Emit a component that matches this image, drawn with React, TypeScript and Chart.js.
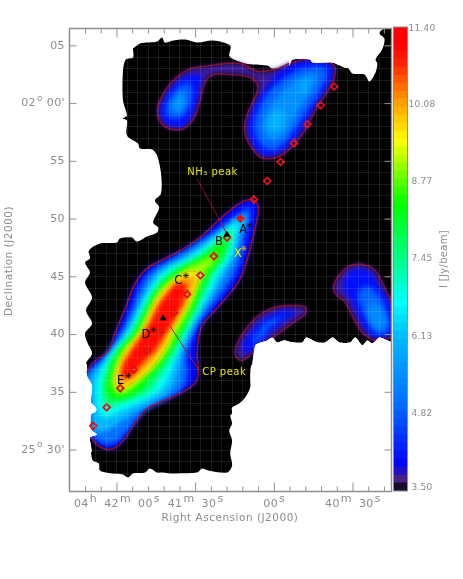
import React, { useEffect, useRef } from "react";
import { Chart, registerables } from "chart.js";

Chart.register(...registerables);

type Pair = number[];

// All positions: [right ascension seconds after 04h40m, declination arcmin after 25deg]
const skyMask: Pair[] = [[113.9,64.76],[111.2,65.2],[104.7,65.37],[102.8,65.72],[101.7,65.28],[98.6,65.46],[94,65.54],[89.4,65.28],[83.3,65.46],[76.8,65.02],[77.2,64.16],[76.1,63.9],[71.1,63.47],[62.7,63.29],[60.8,63.03],[54.3,63.29],[53.1,63.81],[46.3,63.81],[45.5,63.55],[37.8,63.55],[32.1,63.12],[30.2,62.6],[25.6,62.51],[23.7,61.91],[21.4,62.69],[20.7,63.47],[21.4,63.81],[18.7,64.76],[18,65.63],[19.9,66.06],[18.7,66.41],[14.9,66.41],[14.9,39.22],[16.8,39.48],[19.9,39.74],[22.6,39.22],[24.5,39.48],[26.4,39.05],[29.1,39.74],[31,39.31],[35.2,39.31],[37.8,39.74],[40.5,39.31],[43.6,39.31],[47.8,39.74],[49.3,39.31],[53.1,39.31],[56.2,39.48],[58.9,39.31],[60.8,39.74],[62.7,39.48],[67.3,39.05],[67.3,37.58],[68.8,37.32],[69.2,36.28],[69.2,35.41],[71.1,34.55],[73.4,34.03],[76.1,33.68],[76.1,33.16],[76.8,32.99],[76.1,32.3],[77.2,31.69],[76.1,30.82],[76.8,29.7],[76.1,28.66],[78,28.05],[85.2,28.23],[87.5,28.4],[89.4,28.05],[97.1,27.97],[99.7,27.97],[102.4,28.05],[104.7,28.05],[107.4,28.4],[109.3,28.05],[113.9,27.97],[115.8,27.62],[117.7,27.88],[121.9,27.97],[126.5,28.23],[126.9,28.83],[129.2,29.09],[129.9,29.79],[130.3,31.08],[127.6,31.34],[129.9,31.78],[129.9,33.08],[128,33.34],[128,33.68],[129.9,34.12],[129.5,35.59],[131.5,36.45],[131.8,37.49],[129.5,38.36],[131.1,39.22],[132.2,40.09],[129.5,40.95],[131.8,42.08],[129.5,43.21],[132.2,44.5],[130.3,45.37],[132.2,46.24],[130.3,46.58],[130.7,47.27],[126.5,47.88],[120,47.97],[118.9,48.31],[114.3,48.4],[112.4,48.05],[108.5,48.49],[104.7,48.83],[104.3,49.27],[106.2,49.7],[103.9,51],[105.5,51.6],[103.2,52.21],[103.2,53.94],[104.7,55.5],[106.6,56.02],[111.2,56.11],[112,56.54],[116.2,57.23],[116.2,58.53],[117.7,58.7],[116.2,58.96],[117.7,60.26],[117.7,62.86],[116.6,63.81],[113.9,63.98]];

const leftPatch: Pair[] = [[145,37.49],[131.8,37.49],[131.5,36.45],[129.5,35.59],[129.9,34.12],[128,33.68],[128,33.34],[129.9,33.08],[129.9,31.78],[127.6,31.34],[130.3,31.08],[129.9,29.79],[145,29.79]];
const topPatch: Pair[] = [[54.3,68],[54.3,63.29],[53.1,63.81],[46.3,63.81],[45.5,63.55],[37.8,63.55],[32.1,63.12],[32.1,68]];
const bottomPatch: Pair[] = [[14,39.22],[16.8,39.48],[19.9,39.74],[22.6,39.22],[24.5,39.48],[26.4,39.05],[29.1,39.74],[31,39.31],[35.2,39.31],[37.8,39.74],[40.5,39.31],[43.6,39.31],[47.8,39.74],[49.3,39.31],[53.1,39.31],[56.2,39.48],[58.9,39.31],[60.8,39.74],[62.7,39.48],[67.3,39.05],[67.3,35],[14,35]];

// Main filament contours
const fil40: Pair[] = [[68,51.69],[66.1,51.17],[66.5,50.05],[68,48.57],[69.9,46.84],[73,44.85],[77.6,43.38],[83.3,41.91],[87.5,40.78],[89,39.48],[89.4,38.18],[89,37.15],[89.8,35.93],[94,35.15],[101.7,34.29],[108.2,33.6],[113.1,32.3],[118.1,30.65],[122.7,30.05],[127.3,30.39],[129.9,31.08],[134.1,32.12],[134.9,35.59],[131.2,36.89],[129.5,37.49],[123.4,38.62],[120.8,40.09],[116.9,42.25],[113.1,44.42],[108.2,45.8],[101.7,46.58],[94,47.53],[87.5,48.57],[81.4,49.87],[76.1,50.91],[71.1,51.6]];
const fil50: Pair[] = [[69.6,51.08],[69.2,50.22],[71.1,48.57],[72.6,46.84],[74.9,45.37],[79.1,43.81],[85.7,41.91],[90.6,40.09],[93.3,38.18],[93.3,36.19],[96.7,34.98],[108.9,33.42],[114.3,32.12],[119.6,30.82],[123.4,30.48],[127.3,30.82],[132.2,32.12],[134.1,33.42],[134.9,34.98],[132.6,36.45],[128.4,37.32],[124.6,38.18],[118.9,40.09],[115,41.91],[111.6,43.81],[107.4,45.37],[97.1,46.84],[85.2,48.57],[74.5,50.22]];
const fil61: Pair[] = [[71.9,50.39],[70.7,49.7],[73.4,48.57],[74.9,46.84],[78.3,45.37],[82.2,43.81],[87.6,41.91],[92.1,40.09],[95.2,38.18],[97.1,36.19],[100.5,34.98],[112,33.42],[120.8,32.12],[126.5,31.52],[129.2,32.12],[129.5,33.42],[130.3,34.98],[130.3,36.19],[123.4,38.18],[117.3,40.09],[113.1,41.91],[109.3,43.81],[104.7,45.37],[94,46.84],[82.9,48.57],[76.1,49.87]];
const fil68: Pair[] = [[73.8,49.79],[74.5,48.57],[76.4,46.84],[80.6,45.37],[84.1,43.81],[89,41.91],[93.3,40.09],[97.1,38.18],[100.5,36.19],[104.3,34.98],[118.1,33.42],[124.6,32.82],[127.3,33.42],[128,34.98],[127.6,36.19],[122.7,38.18],[116.2,40.09],[112,41.91],[107.8,43.81],[102.4,45.37],[91.3,46.84],[81.4,48.57],[76.1,49.44]];
const fil76: Pair[] = [[75.7,49.09],[76.1,48.57],[78,46.84],[82.6,45.37],[86,43.81],[90.2,41.91],[94.4,40.09],[98.6,38.18],[104,36.19],[108.2,34.98],[115.8,34.29],[122.7,33.77],[125.3,34.29],[125.7,34.98],[125.3,36.19],[121.5,38.18],[115,40.09],[110.6,41.91],[106.2,43.81],[100.1,45.37],[88.7,46.84],[79.5,48.57]];
const fil84: Pair[] = [[78.3,48.31],[79.9,46.84],[84.5,45.37],[87.9,43.81],[91.4,41.91],[95.9,40.09],[100.5,38.18],[107.4,36.19],[112.4,34.98],[120.8,34.38],[123.8,34.98],[123.4,36.19],[120.4,38.18],[113.5,40.09],[109.3,41.91],[104.7,43.81],[97.8,45.37],[86.8,46.84],[79.9,48.05]];
const fil90: Pair[] = [[82.6,46.93],[82.2,46.58],[86.4,45.37],[89.4,43.81],[92.9,41.91],[97.4,40.09],[102,38.18],[110.1,36.19],[115.8,35.07],[119.6,34.89],[121.9,35.59],[121.9,36.19],[118.9,38.18],[112.4,40.09],[108,41.91],[103.6,43.81],[95.5,45.37],[84.1,46.76]];
const fil96: Pair[] = [[88.3,45.17],[90.8,43.66],[94,42.23],[98.7,40.35],[100.4,39.34],[104.2,37.9],[109.3,36.6],[115.7,35.59],[119.5,35.39],[120.8,36.31],[118.9,37.6],[115.7,38.9],[111.2,40.06],[108,41.65],[104.8,43.09],[99.7,44.39],[94,45.4],[90.2,45.46]];
const fil101: Pair[] = [[89.9,44.9],[92.5,43.29],[95.5,41.91],[100.1,40.26],[102.4,39.05],[105.8,37.92],[110.4,36.8],[115.8,35.8],[118.9,35.7],[119.4,36.45],[117.4,37.67],[114.4,38.88],[110.2,40.09],[107.1,41.47],[104.1,42.86],[99.5,43.9],[94.5,45]];
const fil108: Pair[] = [[93.2,44.4],[94.7,42.77],[97.8,41.39],[102,39.83],[105.8,38.53],[110.4,37.49],[114.4,36.4],[118,36.3],[117.6,37.41],[114.9,38.44],[111.4,39.66],[108,40.78],[104.9,42.17],[101.5,43.38],[97.5,44.4]];

// North-east emission (two lobes joined by a faint bridge)
const neOutline: Pair[] = [[98.5,57.73],[102.3,58.1],[104.6,59.25],[102.3,60.84],[97.2,62.28],[92.1,63.01],[87,63.21],[76.8,63.49],[71.7,63.38],[66.6,62.8],[59,63.01],[53.9,63.49],[46.3,63.9],[38.6,63.53],[36.7,63.01],[38,61.71],[43.7,59.68],[50.1,57.08],[56.4,55.65],[62.2,55.21],[66.6,55.59],[71.1,57.38],[70.4,58.96],[66.6,60.98],[66.6,61.71],[69.2,62.28],[76.8,62.51],[83.2,62.51],[86.4,61.85],[88.3,60.26],[90.8,58.68],[94.7,57.81]];
const neWest41: Pair[] = [[98.6,58.01],[101.7,58.36],[103.6,59.31],[101.3,60.69],[96.7,61.91],[91.7,62.51],[87.9,62.43],[88.7,61.13],[89.8,59.83],[92.1,58.7],[95.2,58.01]];
const neWest50: Pair[] = [[98.6,58.62],[101.3,59.14],[100.5,60.26],[97.1,61.3],[92.9,61.82],[91.3,61.13],[92.1,59.83],[95.2,58.88]];
const neWest58: Pair[] = [[98.6,59.22],[99.4,59.92],[96.7,60.78],[94.4,60.95],[94,59.92],[96.3,59.22]];
const neEast41: Pair[] = [[53.9,63.38],[45.5,63.73],[38.6,63.38],[37.5,62.69],[39.4,61.65],[44.7,59.74],[50.8,57.32],[57,55.93],[62.3,55.5],[66.1,55.85],[69.9,57.49],[69.2,58.96],[65.7,60.52],[62.3,61.65],[58.5,62.69]];
const neEast50: Pair[] = [[50.1,63.03],[42.4,63.21],[39.8,62.69],[41.7,61.47],[47,59.57],[52.4,57.66],[57.7,56.28],[62.3,56.02],[66.1,56.8],[67.6,58.1],[66.1,59.4],[62.3,60.95],[56.2,62.17]];
const neEast58: Pair[] = [[48.2,62.51],[44,62.51],[45.5,61.3],[50.1,59.74],[53.9,58.1],[57.7,57.06],[62.3,56.97],[64.6,58.01],[63.1,59.22],[58.5,60.61],[53.1,61.82]];
const neEast63: Pair[] = [[55.8,58.7],[57.7,57.66],[61.5,57.66],[62.7,58.36],[60.4,59.22],[57,59.4]];
const neEast63b: Pair[] = [[46.3,61.99],[47.8,60.95],[50.8,60.95],[49.3,61.99]];

// South-east clumps
const seOutline: Pair[] = [[27.1,46.12],[22.1,45.69],[18.9,44.53],[15.7,43.12],[13.4,42.95],[13.4,40.18],[20.3,39.48],[23.3,39.66],[26.5,40.2],[29.7,41.36],[32.9,42.8],[36.7,43.53],[37.3,44.24],[34.8,45.26],[31,45.98]];
const se41: Pair[] = [[27.1,45.72],[23.3,45.37],[20.3,44.24],[16.4,42.95],[14.9,40.35],[20.3,39.66],[23.3,39.92],[25.6,40.52],[28.7,41.91],[31,43.12],[33.6,43.99],[32.9,44.94],[30.2,45.54]];
const se50: Pair[] = [[24.9,44.24],[21,43.64],[17.2,42.08],[16.4,40.35],[21,40.09],[24.1,41.04],[27.1,42.51],[27.9,43.64]];
const se55: Pair[] = [[23.3,42.95],[19.5,42.25],[17.6,40.78],[21.4,40.52],[24.1,41.65]];
const midOutline: Pair[] = [[51.3,42.51],[48.2,42.37],[48.2,41.79],[52.6,41.07],[60.3,39.77],[67.3,38.62],[72.3,37.75],[74.9,38.33],[73.6,39.48],[69.2,40.93],[64.1,41.93],[57.7,42.45]];
const mid41: Pair[] = [[51.6,42.08],[53.9,41.56],[60.8,40.35],[66.1,39.05],[67.3,38.62],[71.1,38.44],[72.2,39.05],[68.4,40.35],[63.4,41.39],[57,42.08]];
const mid50: Pair[] = [[55.8,41.65],[61.5,40.61],[66.1,39.31],[68.4,39.31],[66.1,40.35],[62.3,41.21],[57.7,41.56]];

// Point marks
const openDiamondRa = [37.2,42.3,47.4,52.5,57.6,62.7,67.8,78,83.05,88.2,93.25,98.3,103.5,108.54,113.6,118.74,123.94,129.06];
const openDiamondDec = [61.47,59.85,58.2,56.56,54.95,53.3,51.69,48.4,46.78,45.13,43.49,41.88,40.23,38.59,36.97,35.35,33.7,32.1];
const filledDiamondRa = [72.9];
const filledDiamondDec = [50.04];
const triangleRa = [78.1,102.4];
const triangleDec = [48.66,41.41];
const blackStarRa = [69.4,93.7,106.1,115.7];
const blackStarDec = [49.47,45.11,40.41,36.43];
const yellowStarRa = [71.6];
const yellowStarDec = [47.47];
const nh3Leader: Pair[] = [[89.5,53.51],[78.1,48.75]];
const cpLeader: Pair[] = [[100.4,40.95],[88.7,36.89]];

const clumpNames = ["A","B","C","D","E"];
const clumpRa = [71.9,81.1,96.6,109,118.6];
const clumpDec = [49.01,47.97,44.62,39.92,35.96];
const yellowTexts = ["X","NH₃ peak","CP peak"];
const yellowRa = [73.9,93.2,87.5];
const yellowDec = [46.99,54.03,36.71];

// Axes
const xMajorValues = [120,90,60,30];
const xMajorParts = [[["04","h"],["42","m"],["00","s"]],[["41","m"],["30","s"]],[["00","s"]],[["40","m"],["30","s"]]];
const xMinorValues = [132,126,114,108,102,96,84,78,72,66,54,48,42,36,24,18];
const yMajorValues = [65,60,55,50,45,40,35,30];
const yDegrees = ["","02","","","","","","25"];
const yMinutes = ["05","00'","55","50","45","40","35","30'"];

// Colour scale
const colourValues = [3.5,3.7,3.95,5.0,6.1,6.7,7.5,8.4,9.45,10.1,10.8,11.1,11.4];
const colourHex = ["#000000","#4a2080","#0000ff","#0070ff","#00b8ff","#00ffff","#00ff80","#00ff00","#ffff00","#ffa000","#ff2000","#ff0000","#ff0000"];
const colourTicks = [3.5,4.82,6.13,7.45,8.77,10.08,11.4];
const colourTickText = ["3.50","4.82","6.13","7.45","8.77","10.08","11.40"];
const colourEdges = [3.50,3.64,3.77,3.91,4.04,4.18,4.32,4.45,4.59,4.73,4.86,5.00,5.13,5.27,5.41,5.54,5.68,5.82,5.95,6.09,6.22,6.36,6.50,6.63,6.77,6.91,7.04,7.18,7.31,7.45,7.59,7.72,7.86,8.00,8.13,8.27,8.40,8.54,8.68,8.81,8.95,9.09,9.22,9.36,9.49,9.63,9.77,9.90,10.04,10.18,10.31,10.45,10.58,10.72,10.86,10.99,11.13,11.27,11.40];

const hexRgb = (h: string) => [1,3,5].map((i) => parseInt(h.slice(i,i+2),16));
const colourFor = (v: number) => {
  let i = 0;
  while (i < colourValues.length - 2 && v > colourValues[i+1]) i++;
  const t = Math.min(1, Math.max(0, (v - colourValues[i]) / (colourValues[i+1] - colourValues[i])));
  const a = hexRgb(colourHex[i]), b = hexRgb(colourHex[i+1]);
  return `rgb(${a.map((c,k) => Math.round(c + (b[k]-c)*t)).join(",")})`;
};

const GREY = "#8c8c8c";
const FONT = '"DejaVu Sans"';
const toXY = (p: Pair[], close = true) => (close ? [...p, p[0]] : p).map(([x,y]) => ({x,y}));
const zip = (xs: number[], ys: number[]) => xs.map((x,i) => ({x, y: ys[i]}));

const shape = (p: Pair[], color: string, blur: boolean, tension = 0.4) => ({
  data: toXY(p), showLine: true, fill: "shape", backgroundColor: color, borderWidth: 0,
  borderColor: "transparent", pointRadius: 0, tension, blur,
});
const level = (p: Pair[], v: number) => shape(p, colourFor(v), true);
const stroke = (p: Pair[], color: string, w: number, close = true) => ({
  data: toXY(p, close), showLine: true, fill: false, borderColor: color, borderWidth: w,
  pointRadius: 0, tension: close ? 0.4 : 0,
});
const marks = (data: any[], style: string, r: number, fg: string, bg: string, w: number) => ({
  data, showLine: false, pointStyle: style, pointRadius: r, pointBorderColor: fg, pointBackgroundColor: bg,
  borderColor: fg, backgroundColor: bg, pointBorderWidth: w, borderWidth: w,
});

const BLUR = "blur(2.5px)";
const blurPlugin = {
  id: "contourBlur",
  afterDatasetDraw(chart: any, args: any) {
    const next = chart.data.datasets[args.index - 1];
    chart.ctx.filter = next && next.blur ? BLUR : "none";
  },
  afterDatasetsDraw(chart: any) { chart.ctx.filter = "none"; },
};

function text(ctx: CanvasRenderingContext2D, s: string, x: number, y: number, size: number, color: string, align: CanvasTextAlign = "left", spacing = "0.4px") {
  ctx.font = `${size}px ${FONT}`;
  ctx.fillStyle = color;
  ctx.textAlign = align;
  ctx.textBaseline = "middle";
  (ctx as any).letterSpacing = spacing;
  ctx.fillText(s, x, y);
}

const framePlugin = {
  id: "frame",
  afterDraw(chart: any) {
    const { ctx, chartArea: a, scales: { x, y } } = chart;
    ctx.save();
    ctx.strokeStyle = "#8f8f8f";
    ctx.lineWidth = 1;
    const seg = (x0: number, y0: number, x1: number, y1: number) => {
      ctx.beginPath(); ctx.moveTo(x0,y0); ctx.lineTo(x1,y1); ctx.stroke();
    };
    xMajorValues.forEach((v) => { const p = x.getPixelForValue(v); seg(p,a.top,p,a.top+9); seg(p,a.bottom,p,a.bottom-9); });
    xMinorValues.forEach((v) => { const p = x.getPixelForValue(v); seg(p,a.top,p,a.top+5); seg(p,a.bottom,p,a.bottom-5); });
    yMajorValues.forEach((v) => { const p = y.getPixelForValue(v); seg(a.left,p,a.left+7,p); seg(a.right,p,a.right-7,p); });
    ctx.lineWidth = 1.5;
    ctx.strokeRect(a.left, a.top, a.right - a.left, a.bottom - a.top);

    // x tick labels, with raised h / m / s
    const labelY = a.bottom + 13, size = 11;
    ctx.font = `${size}px ${FONT}`;
    (ctx as any).letterSpacing = "0.4px";
    xMajorValues.forEach((v, i) => {
      const parts = xMajorParts[i];
      const gap = 7;
      const total = parts.reduce((t, [d,u]) => t + ctx.measureText(d).width + ctx.measureText(u).width + 1, 0) + gap*(parts.length-1);
      let cx = x.getPixelForValue(v) - total/2;
      parts.forEach(([d,u]) => {
        text(ctx, d, cx, labelY, size, GREY);
        cx += ctx.measureText(d).width + 1;
        text(ctx, u, cx, labelY - 5, size, GREY);
        cx += ctx.measureText(u).width + gap;
      });
    });
    // y tick labels
    yMajorValues.forEach((v, i) => {
      const p = y.getPixelForValue(v);
      text(ctx, yMinutes[i], 65, p, size, GREY, "right");
      if (yDegrees[i]) {
        text(ctx, yDegrees[i], 36, p, size, GREY, "right");
        text(ctx, "o", 37, p - 5, 9, GREY, "left");
      }
    });
    text(ctx, "Right Ascension (J2000)", 230, 518, 10.5, GREY, "center", "0.5px");
    ctx.save();
    ctx.translate(9, 261);
    ctx.rotate(-Math.PI/2);
    text(ctx, "Declination (J2000)", 0, 0, 10.5, GREY, "center", "0.5px");
    ctx.restore();

    clumpNames.forEach((n,i) => text(ctx, n, x.getPixelForValue(clumpRa[i]), y.getPixelForValue(clumpDec[i]), 11.5, "#000", "center", "0px"));
    yellowTexts.forEach((n,i) => text(ctx, n, x.getPixelForValue(yellowRa[i]), y.getPixelForValue(yellowDec[i]), i === 0 ? 11.5 : 10, "#e6e600", i === 0 ? "center" : "left", i === 0 ? "0px" : "0.5px"));
    ctx.restore();
  },
};

const colourbarPlugin = {
  id: "colourbarText",
  afterDraw(chart: any) {
    const { ctx, chartArea: a, scales: { y } } = chart;
    ctx.save();
    ctx.strokeStyle = "#8f8f8f";
    ctx.lineWidth = 1;
    ctx.strokeRect(a.left, a.top, a.right - a.left, a.bottom - a.top);
    colourTicks.forEach((v,i) => {
      const p = Math.min(a.bottom - 3, Math.max(a.top + 2, y.getPixelForValue(v)));
      text(ctx, colourTickText[i], 422, p, 9, GREY, "center", "0.2px");
    });
    ctx.translate(444, 259);
    ctx.rotate(-Math.PI/2);
    text(ctx, "I [Jy/beam]", 0, 0, 10, GREY, "center", "0.3px");
    ctx.restore();
  },
};

export default function App() {
  const mapRef = useRef<HTMLCanvasElement>(null);
  const barRef = useRef<HTMLCanvasElement>(null);

  useEffect(() => {
    // listed bottom layer first, reversed below because Chart.js paints index 0 last
    const layers: any[] = [
      shape(skyMask, "#000000", false, 0.3),
      level(neOutline, 3.75), level(seOutline, 3.75), level(midOutline, 3.75),
      level(fil40, 4.0),
      level(neWest41, 4.1), level(neEast41, 4.1), level(se41, 4.1), level(mid41, 4.1),
      level(fil50, 5.0), level(neWest50, 4.8), level(neEast50, 4.9), level(se50, 4.9), level(mid50, 4.7),
      level(se55, 5.4), level(neWest58, 5.5), level(neEast58, 5.5),
      level(fil61, 6.1), level(neEast63, 6.0), level(neEast63b, 5.8),
      level(fil68, 6.8), level(fil76, 7.6), level(fil84, 8.4), level(fil90, 9.0),
      level(fil96, 9.6), level(fil101, 10.1), level(fil108, 11.0),
      shape(leftPatch, "#ffffff", false, 0.2), shape(topPatch, "#ffffff", false, 0.2), shape(bottomPatch, "#ffffff", false, 0.2),
      stroke(neOutline, "#8a0f2c", 1.4), stroke(seOutline, "#8a0f2c", 1.4), stroke(midOutline, "#8a0f2c", 1.4),
      stroke(fil40, "#8a0f2c", 1.6),
      stroke(fil96, "#e0b800", 1),
      shape(leftPatch, "#ffffff", false, 0.2), shape(topPatch, "#ffffff", false, 0.2), shape(bottomPatch, "#ffffff", false, 0.2),
      stroke(nh3Leader, "#8a0f2c", 1, false), stroke(cpLeader, "#a02020", 1, false),
      marks(zip(openDiamondRa, openDiamondDec), "rectRot", 3.4, "#e01010", "transparent", 1.8),
      marks(zip(filledDiamondRa, filledDiamondDec), "rectRot", 4, "#e01010", "#e01010", 1),
      marks(zip(triangleRa, triangleDec), "triangle", 3.2, "#000", "#000", 1),
      marks(zip(blackStarRa, blackStarDec), "star", 3, "#101010", "#101010", 0.8),
      marks(zip(yellowStarRa, yellowStarDec), "star", 3, "#d8b000", "#d8b000", 0.8),
    ];
    const map = new Chart(mapRef.current!, {
      type: "scatter",
      data: { datasets: layers.reverse() },
      options: {
        animation: false, responsive: false, devicePixelRatio: 1, events: [],
        layout: { padding: { left: 69.5, top: 28.5, right: 71.5, bottom: 87.5 } },
        plugins: { legend: { display: false }, tooltip: { enabled: false } },
        scales: {
          x: {
            type: "linear", reverse: true, min: 15.3, max: 138.1,
            border: { display: false },
            grid: { color: "rgba(255,255,255,0.1)", z: 1, drawTicks: false, lineWidth: 1 },
            ticks: { display: false, stepSize: 4 },
          },
          y: {
            type: "linear", min: 26.41, max: 66.5,
            border: { display: false },
            grid: { color: "rgba(255,255,255,0.1)", z: 1, drawTicks: false, lineWidth: 1 },
            ticks: { display: false, stepSize: 1 },
          },
        },
      } as any,
      plugins: [blurPlugin, framePlugin],
    });
    const steps = colourEdges.slice(0, -1).map((lo, i) => ({
      data: [[lo, colourEdges[i+1]]],
      backgroundColor: colourFor((lo + colourEdges[i+1]) / 2),
      barPercentage: 1, categoryPercentage: 1, grouped: false,
    }));
    const bar = new Chart(barRef.current!, {
      type: "bar",
      data: { labels: ["I"], datasets: steps },
      options: {
        animation: false, responsive: false, devicePixelRatio: 1, events: [],
        layout: { padding: { left: 393.5, top: 27, right: 55.5, bottom: 88 } },
        plugins: { legend: { display: false }, tooltip: { enabled: false } },
        scales: {
          x: { display: false },
          y: { display: false, type: "linear", min: 3.5, max: 11.4 },
        },
      } as any,
      plugins: [colourbarPlugin],
    });
    return () => { map.destroy(); bar.destroy(); };
  }, []);

  const abs: React.CSSProperties = { position: "absolute", left: 0, top: 0 };
  return (
    <div style={{ ...abs, width: 463, height: 579, background: "#fff" }}>
      <canvas ref={mapRef} width={463} height={579} style={abs} />
      <canvas ref={barRef} width={463} height={579} style={abs} />
    </div>
  );
}
